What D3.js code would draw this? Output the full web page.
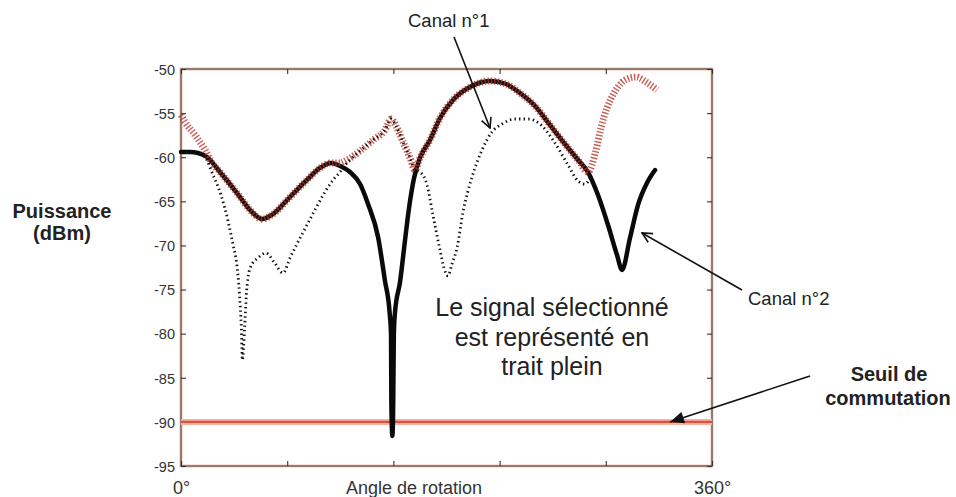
<!DOCTYPE html>
<html><head><meta charset="utf-8">
<script src="https://cdn.jsdelivr.net/npm/d3@7"></script>
<style>
body{margin:0;background:#fff}
svg{display:block}
text{font-family:"Liberation Sans",Arial,sans-serif}
</style>
</head><body>
<svg id="c" width="956" height="497"></svg>
<script>
// ---- data ----
const yTicks = [-50,-55,-60,-65,-70,-75,-80,-85,-90,-95];
const xTicks = [0,72,144,216,288,360];
const xTickLabels = {0:"0°",360:"360°"};
const threshold = -90;

// selected signal (solid)
const selAngle = [0,6.1,11.5,17.6,26.4,38.0,46.8,54.9,62.4,73.9,85.4,94.2,101.7,107.8,114.6,121.4,126.8,133.6,138.3,141.4,142.4,142.6,143.3,143.9,144.3,145.1,148.5,151.9,154.6,158.0,162.0,168.8,175.6,184.4,195.9,209.5,220.3,229.8,240.0,250.2,260.3,269.2,275.9,282.7,289.5,295.6,299.0,304.4,309.8,315.9,321.4];
const selPower = [-59.41,-59.41,-59.52,-59.97,-61.68,-64.06,-65.98,-67.00,-66.44,-64.51,-62.58,-61.22,-60.65,-60.99,-61.68,-63.04,-65.30,-69.04,-74.03,-77.54,-80.15,-87.52,-91.60,-87.52,-80.15,-77.54,-74.14,-69.38,-65.76,-62.36,-60.09,-58.05,-55.55,-53.51,-52.04,-51.36,-51.70,-52.72,-54.19,-56.35,-58.50,-60.31,-61.68,-64.28,-67.68,-71.08,-72.78,-69.16,-65.42,-62.92,-61.45];

// red hatched curve
const c2Angle = [0,2.7,9.5,16.3,21.0,26.4,38.0,46.8,54.9,62.4,73.9,85.4,94.2,101.7,107.8,112.5,121.4,130.2,138.3,142.4,145.8,150.5,155.3,158.6,162.0,168.8,175.6,184.4,195.9,209.5,220.3,229.8,240.0,250.2,260.3,269.2,275.9,281.4,284.7,288.8,293.6,301.0,308.5,315.3,322.7];
const c2Power = [-55.21,-56.01,-57.48,-59.18,-60.65,-61.68,-64.06,-65.98,-67.00,-66.44,-64.51,-62.58,-61.22,-60.65,-60.65,-60.31,-59.29,-58.05,-56.91,-55.67,-56.46,-58.27,-60.09,-61.45,-60.09,-58.05,-55.55,-53.51,-52.04,-51.36,-51.70,-52.72,-54.19,-56.35,-58.50,-60.31,-61.68,-59.18,-56.69,-54.42,-52.72,-51.25,-50.91,-51.47,-52.38];

// dotted curve
const c1Angle = [0,6.1,11.5,17.6,20.3,27.1,31.9,35.3,37.6,39.7,40.9,41.6,43.1,44.3,45.4,46.8,52.2,57.6,63.1,69.2,73.9,79.3,85.4,91.5,97.6,103.1,107.8,111.9,115.9,121.4,130.2,138.3,142.4,145.8,150.5,155.3,158.6,162.0,166.8,170.8,175.6,178.3,181.0,183.7,187.1,191.2,197.3,204.1,210.8,217.6,226.4,235.3,243.4,252.2,262.4,269.2,273.9,277.3];
const c1Power = [-59.41,-59.41,-59.52,-60.31,-61.45,-64.28,-67.23,-69.95,-71.88,-75.62,-79.36,-82.99,-79.36,-75.62,-73.69,-72.56,-71.42,-70.86,-71.88,-73.12,-71.42,-69.61,-67.68,-65.76,-63.94,-62.58,-61.68,-60.77,-60.09,-59.29,-58.05,-56.91,-55.67,-56.46,-58.27,-60.09,-61.45,-61.68,-63.15,-66.55,-70.52,-72.56,-73.46,-72.10,-70.29,-66.21,-62.24,-59.18,-57.14,-56.23,-55.67,-55.67,-56.23,-58.05,-60.88,-62.70,-63.04,-62.36];

// ---- drawing ----
const svg = d3.select("#c");
const L=181,R=712,T=69,B=466;
const x = d3.scaleLinear().domain([0,360]).range([L,R]);
const y = d3.scaleLinear().domain([-95,-50]).range([B,T]);

const zip = (a,p)=>a.map((v,i)=>({a:v,p:p[i]}));
const line = d3.line().x(d=>x(d.a)).y(d=>y(d.p)).curve(d3.curveMonotoneX);

const defs = svg.append("defs");
defs.append("marker").attr("id","open").attr("viewBox","0 0 12 12").attr("refX",11).attr("refY",6)
  .attr("markerWidth",12).attr("markerHeight",12).attr("markerUnits","userSpaceOnUse").attr("orient","auto")
  .append("path").attr("d","M1,1 L11,6 L1,11").attr("fill","none").attr("stroke","#111").attr("stroke-width",1.6);
defs.append("marker").attr("id","filled").attr("viewBox","0 0 14 12").attr("refX",14).attr("refY",6)
  .attr("markerWidth",15).attr("markerHeight",12).attr("markerUnits","userSpaceOnUse").attr("orient","auto")
  .append("path").attr("d","M0,0 L14,6 L0,12 Z").attr("fill","#111");

// frame
svg.append("rect").attr("x",L).attr("y",T).attr("width",R-L).attr("height",B-T)
  .attr("fill","none").attr("stroke","#f6c6b8").attr("stroke-width",3);
svg.append("rect").attr("x",L).attr("y",T).attr("width",R-L).attr("height",B-T)
  .attr("fill","none").attr("stroke","#3e3e3e").attr("stroke-width",1.1);

// axes
const gl = svg.append("g").attr("transform",`translate(${L},0)`)
  .call(d3.axisLeft(y).tickValues(yTicks).tickSize(-5).tickSizeOuter(0).tickPadding(6).tickFormat(d=>String(d)));
const gr = svg.append("g").attr("transform",`translate(${R},0)`)
  .call(d3.axisRight(y).tickValues(yTicks).tickSize(-5).tickSizeOuter(0).tickFormat(""));
const gb = svg.append("g").attr("transform",`translate(0,${B})`)
  .call(d3.axisBottom(x).tickValues(xTicks).tickSize(-5).tickSizeOuter(0).tickPadding(15).tickFormat(d=>xTickLabels[d]||""));
const gt = svg.append("g").attr("transform",`translate(0,${T})`)
  .call(d3.axisTop(x).tickValues(xTicks).tickSize(-5).tickSizeOuter(0).tickFormat(""));
[gl,gr,gb,gt].forEach(g=>{
  g.select(".domain").remove();
  g.selectAll(".tick line").attr("stroke","#333").attr("stroke-width",1.1);
  g.selectAll("text").attr("fill","#333").style("font-family",'"Liberation Sans",Arial,sans-serif');
});
gl.selectAll("text").style("font-size","14.5px").attr("dy","0.36em");
gb.selectAll("text").style("font-size","18px");

// threshold
svg.append("line").attr("x1",x(0)).attr("x2",x(360)).attr("y1",y(threshold)).attr("y2",y(threshold))
  .attr("stroke","#f6b4a4").attr("stroke-width",6);
svg.append("line").attr("x1",x(0)).attr("x2",x(360)).attr("y1",y(threshold)).attr("y2",y(threshold))
  .attr("stroke","#e0503c").attr("stroke-width",2.4);

// curves
svg.append("path").datum(zip(selAngle,selPower)).attr("d",line)
  .attr("fill","none").attr("stroke","#0a0a0a").attr("stroke-width",4.5)
  .attr("stroke-linejoin","round").attr("stroke-linecap","round");
svg.append("path").datum(zip(c2Angle,c2Power)).attr("d",line)
  .attr("fill","none").attr("stroke","#b8342b").attr("stroke-opacity",0.8).attr("stroke-width",7)
  .attr("stroke-dasharray","1.4 1.9");
svg.append("path").datum(zip(c1Angle,c1Power)).attr("d",line)
  .attr("fill","none").attr("stroke","#111").attr("stroke-width",2.8)
  .attr("stroke-dasharray","1.4 3.2");

// annotations
const ann = svg.append("g").attr("fill","#222");
ann.append("text").attr("x",408).attr("y",27).style("font-size","18.5px").text("Canal n°1");
ann.append("text").attr("x",748).attr("y",305).style("font-size","18.5px").text("Canal n°2");
ann.append("text").attr("x",62).attr("y",218).attr("text-anchor","middle").style("font-size","20px").style("font-weight","bold").text("Puissance");
ann.append("text").attr("x",62).attr("y",240).attr("text-anchor","middle").style("font-size","20px").style("font-weight","bold").text("(dBm)");
ann.append("text").attr("x",889).attr("y",381).attr("text-anchor","middle").style("font-size","20px").style("font-weight","bold").text("Seuil de");
ann.append("text").attr("x",888).attr("y",405).attr("text-anchor","middle").style("font-size","20px").style("font-weight","bold").text("commutation");
ann.append("text").attr("x",414).attr("y",494).attr("text-anchor","middle").attr("fill","#333").style("font-size","18px").text("Angle de rotation");
const centre = ["Le signal sélectionné","est représenté en","trait plein"];
centre.forEach((t,i)=>ann.append("text").attr("x",552).attr("y",316+i*29.5).attr("text-anchor","middle")
  .style("font-size","25px").text(t));

const arrows = [
  {x1:454,y1:37,x2:490,y2:128,m:"open"},
  {x1:742,y1:290,x2:642,y2:233,m:"open"},
  {x1:810,y1:376,x2:670,y2:422,m:"filled"}
];
svg.append("g").selectAll("line").data(arrows).join("line")
  .attr("x1",d=>d.x1).attr("y1",d=>d.y1).attr("x2",d=>d.x2).attr("y2",d=>d.y2)
  .attr("stroke","#111").attr("stroke-width",1.6).attr("marker-end",d=>`url(#${d.m})`);
</script>
</body></html>
